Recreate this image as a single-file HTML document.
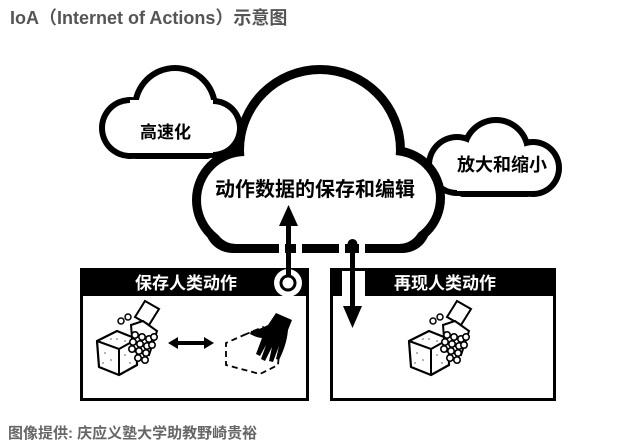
<!DOCTYPE html>
<html><head><meta charset="utf-8"><style>
body{margin:0;background:#fff;width:640px;height:448px;overflow:hidden}
svg{display:block}
text{font-family:"Liberation Sans","Noto Sans CJK SC",sans-serif}
</style></head><body>
<svg width="640" height="448" viewBox="0 0 640 448" xmlns="http://www.w3.org/2000/svg">
<defs>
<g id="robo">
  <path d="M0 16 L20 6 L40 14 L40 40 L22 50 L2 42 Z" fill="#fff" stroke="#000" stroke-width="2.2" stroke-linejoin="round"/>
  <path d="M0 16 L22 24 L40 14 M22 24 L22 50" fill="none" stroke="#000" stroke-width="2"/>
  <g fill="#000"><circle cx="8" cy="28" r=".6"/><circle cx="14" cy="35" r=".6"/><circle cx="6" cy="38" r=".6"/><circle cx="28" cy="30" r=".6"/><circle cx="33" cy="38" r=".6"/><circle cx="20" cy="14" r=".6"/><circle cx="28" cy="16" r=".6"/><circle cx="14" cy="14" r=".6"/></g>
  <path d="M38 -8 L48 -24 L62 -16 L52 0 Z" fill="#fff" stroke="#000" stroke-width="2"/>
  <path d="M34 0 L46 -4 L60 6 L52 30 L36 26 Z" fill="#fff" stroke="#000" stroke-width="2"/>
  <circle cx="24" cy="-4" r="3" fill="#fff" stroke="#000" stroke-width="1.5"/>
  <circle cx="31" cy="-8" r="3" fill="#fff" stroke="#000" stroke-width="1.5"/>
  <g fill="#fff" stroke="#000" stroke-width="1.6">
    <circle cx="38" cy="10" r="3.2"/><circle cx="45" cy="12" r="3.2"/><circle cx="52" cy="14" r="3.2"/>
    <circle cx="36" cy="17" r="3.2"/><circle cx="43" cy="19" r="3.2"/><circle cx="50" cy="21" r="3.2"/><circle cx="57" cy="12" r="3.2"/>
    <circle cx="35" cy="24" r="3.2"/><circle cx="42" cy="26" r="3.2"/><circle cx="49" cy="28" r="3.2"/><circle cx="55" cy="20" r="3.2"/>
    <circle cx="41" cy="33" r="3.2"/><circle cx="48" cy="35" r="3.2"/>
  </g>
</g>
</defs>

<text x="10" y="24" font-size="18" font-weight="bold" fill="#555">IoA（Internet of Actions）示意图</text>

<g fill="#000">
  <circle cx="130" cy="128" r="31"/><circle cx="175" cy="108" r="43"/><circle cx="213" cy="128" r="30"/>
  <rect x="130" y="100" width="83" height="59" rx="6"/>
</g>
<g fill="#fff">
  <circle cx="130" cy="128" r="25"/><circle cx="175" cy="108" r="37"/><circle cx="213" cy="128" r="24"/>
  <rect x="130" y="100" width="83" height="53"/>
</g>
<g fill="#000">
  <circle cx="457" cy="165" r="31"/><circle cx="496" cy="152" r="35"/><circle cx="533" cy="168" r="29"/>
  <rect x="457" y="150" width="76" height="47" rx="6"/>
</g>
<g fill="#fff">
  <circle cx="457" cy="165" r="25"/><circle cx="496" cy="152" r="29"/><circle cx="533" cy="168" r="23"/>
  <rect x="457" y="150" width="76" height="41"/>
</g>
<g fill="#000">
  <circle cx="245" cy="200" r="53"/><circle cx="320" cy="150" r="85"/><circle cx="393" cy="198" r="52"/>
  <rect x="240" y="170" width="160" height="83"/>
  <rect x="205" y="200" width="225" height="53" rx="28"/>
</g>
<g fill="#fff">
  <circle cx="245" cy="200" r="44"/><circle cx="320" cy="150" r="76"/><circle cx="393" cy="198" r="43"/>
  <rect x="240" y="170" width="160" height="74"/>
  <rect x="214" y="200" width="207" height="44" rx="22"/>
</g>
<rect x="279" y="240" width="6" height="16" fill="#fff"/>
<rect x="296" y="240" width="6" height="16" fill="#fff"/>
<rect x="339" y="240" width="6" height="16" fill="#fff"/>
<rect x="359" y="240" width="6" height="16" fill="#fff"/>

<text x="140" y="138" font-size="17" font-weight="bold">高速化</text>
<text x="457" y="171" font-size="18" font-weight="bold">放大和缩小</text>
<text x="215" y="196" font-size="20" font-weight="bold">动作数据的保存和编辑</text>

<rect x="81.5" y="269.5" width="226" height="130" fill="#fff" stroke="#000" stroke-width="3"/>
<rect x="80" y="268" width="229" height="28" fill="#000"/>
<text x="135" y="289" font-size="17" font-weight="bold" fill="#fff">保存人类动作</text>
<circle cx="288" cy="283" r="14" fill="#fff"/>
<circle cx="288" cy="283" r="7" fill="none" stroke="#000" stroke-width="3"/>
<rect x="286" y="225" width="5" height="52" fill="#000"/>
<path d="M279 226 L288.5 205 L298 226 Z" fill="#000"/>

<rect x="331.5" y="269.5" width="223" height="130" fill="#fff" stroke="#000" stroke-width="3"/>
<rect x="330" y="268" width="12" height="28" fill="#000"/>
<rect x="365" y="268" width="191" height="28" fill="#000"/>
<text x="394" y="289" font-size="17" font-weight="bold" fill="#fff">再现人类动作</text>
<circle cx="352.5" cy="244" r="5" fill="#000"/>
<rect x="350" y="244" width="5" height="65" fill="#000"/>
<path d="M343 306 L352.5 328 L362 306 Z" fill="#000"/>

<use href="#robo" x="97" y="325"/>
<use href="#robo" x="409" y="325"/>
<path d="M168 343 L178 337 L178 341 L204 341 L204 337 L214 343 L204 349 L204 345 L178 345 L178 349 Z" fill="#000"/>
<path d="M244 335 L263 327 L280 341 L278 365 L260 374 L226 365 L226 343 Z" fill="none" stroke="#000" stroke-width="1.8" stroke-dasharray="6 4"/>
<path d="M276 313 L292 320 L288 330 C287 342 283 352 279 360 L276 359 L279 346 L273 362 L269 361 L272 347 L265 361 L261 359 L266 345 L260 356 L256 354 L262 338 C258 338 254 336 250 334 L251 331 C257 330 262 328 268 325 Z" fill="#000"/>

<text x="8" y="438" font-size="15" font-weight="bold" fill="#666">图像提供: 庆应义塾大学助教野崎贵裕</text>
</svg>
</body></html>
